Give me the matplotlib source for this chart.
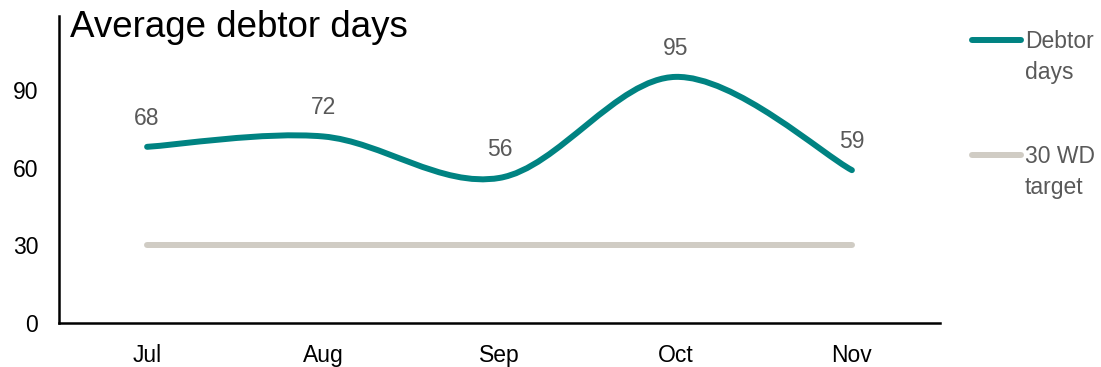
import numpy as np
import matplotlib
matplotlib.use("Agg")
import matplotlib.pyplot as plt
from matplotlib.path import Path
from matplotlib.patches import PathPatch
from matplotlib.lines import Line2D

plt.rcParams['font.family'] = ['Liberation Sans', 'DejaVu Sans']

months = ["Jul", "Aug", "Sep", "Oct", "Nov"]
debtor_days = [68, 72, 56, 95, 59]
target = [30, 30, 30, 30, 30]
yticks = [0, 30, 60, 90]
title = "Average debtor days"
series_names = ["Debtor\ndays", "30 WD\ntarget"]

TEAL = "#008382"
GREY_LINE = "#D0CCC4"
TEXT_GREY = "#595959"
LW = 4.3
FS = 16.5

fig = plt.figure(figsize=(11.01, 3.67), dpi=100)
ax = fig.add_axes([59/1101, 1-323/367, (940-59)/1101, (323-16)/367])

x = np.arange(len(months))

def smooth_path(xs, ys):
    # Excel-like smoothed line: cubic Bezier through points (Catmull-Rom style)
    pts = np.column_stack([xs, ys]).astype(float)
    n = len(pts)
    verts = [pts[0]]
    codes = [Path.MOVETO]
    for i in range(n - 1):
        p0 = pts[i - 1] if i > 0 else pts[i]
        p1 = pts[i]
        p2 = pts[i + 1]
        p3 = pts[i + 2] if i + 2 < n else pts[i + 1]
        c1 = p1 + (p2 - p0) / 6.0
        c2 = p2 - (p3 - p1) / 6.0
        verts += [c1, c2, p2]
        codes += [Path.CURVE4] * 3
    return Path(verts, codes)

ax.add_patch(PathPatch(smooth_path(x, debtor_days), facecolor='none', edgecolor=TEAL,
                       lw=LW, capstyle='round', joinstyle='round', zorder=3))
ax.plot(x, target, color=GREY_LINE, lw=LW, solid_capstyle='round', zorder=2)

for xi, v in zip(x, debtor_days):
    ax.annotate(str(v), (xi, v), xytext=(0, 20.5), textcoords='offset points',
                ha='center', va='center', fontsize=FS, color=TEXT_GREY)

ax.set_xlim(-0.5, len(months) - 0.5)
ax.set_ylim(0, 118.5)
ax.set_yticks(yticks)
ax.set_xticks(x)
ax.set_xticklabels(months)
ax.tick_params(axis='both', length=0, labelsize=FS, colors='black')
ax.tick_params(axis='y', pad=15)
ax.tick_params(axis='x', pad=15)
for s in ['top', 'right']:
    ax.spines[s].set_visible(False)
for s in ['left', 'bottom']:
    ax.spines[s].set_linewidth(1.8)
    ax.spines[s].set_color('black')

ax.text(0.012, 1.02, title, transform=ax.transAxes, ha='left', va='top',
        fontsize=26.5, color='black')

# legend (manual)
W, H = 1101, 367
for (name, col, yc) in [(series_names[0], TEAL, 40), (series_names[1], GREY_LINE, 155)]:
    fig.add_artist(Line2D([972/W, 1021/W], [1-yc/H, 1-yc/H], color=col, lw=LW,
                          solid_capstyle='round'))
    fig.text(1025/W, 1-(yc-10)/H, name, ha='left', va='top', fontsize=FS,
             color=TEXT_GREY, linespacing=1.42)

fig.savefig("out.png", dpi=100)
